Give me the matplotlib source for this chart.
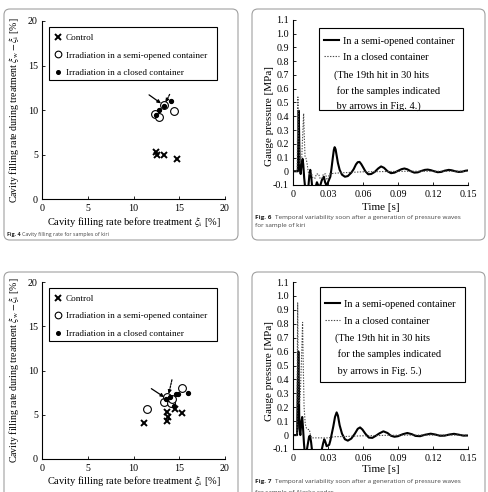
import matplotlib
matplotlib.use('Agg')
import matplotlib.pyplot as plt
from matplotlib.patches import FancyBboxPatch, Rectangle
from matplotlib.lines import Line2D

plt.rcParams['font.family'] = 'Liberation Serif'
plt.rcParams['mathtext.fontset'] = 'stix'

W, H = 488, 492

# ---- Fig. 4 : kiri, cavity filling rate ----
kiri_ctrl_x = [12.5, 12.6, 13.3, 14.7]
kiri_ctrl_y = [5.3, 4.95, 5.0, 4.55]
kiri_open_x = [12.4, 12.8, 13.35, 14.4]
kiri_open_y = [9.55, 9.25, 10.6, 9.85]
kiri_closed_x = [12.45, 12.75, 13.3, 14.1]
kiri_closed_y = [9.45, 10.05, 10.45, 11.0]
kiri_arrow_solid = [(11.7, 11.7), (13.0, 10.75)]
kiri_arrow_dotted = [(13.95, 11.75), (13.5, 10.85)]

# ---- Fig. 5 : Alaska cedar, cavity filling rate ----
cedar_ctrl_x = [11.15, 13.7, 13.8, 13.7, 14.5, 15.25]
cedar_ctrl_y = [4.05, 5.3, 4.8, 4.35, 5.65, 5.2]
cedar_open_x = [11.45, 13.35, 13.7, 14.05, 14.25, 15.25]
cedar_open_y = [5.7, 6.4, 6.95, 6.3, 6.8, 8.05]
cedar_closed_x = [13.5, 14.0, 14.45, 14.6, 14.9, 16.0]
cedar_closed_y = [6.8, 7.0, 5.95, 7.35, 7.35, 7.45]
cedar_arrow_solid = [(11.95, 7.95), (13.35, 7.0)]
cedar_arrow_dotted = [(14.2, 8.95), (13.85, 7.35)]

# ---- Fig. 6 : kiri, gauge pressure vs time ----
kiri_semi_t = [0, 0.0042, 0.0046, 0.0049, 0.0053, 0.0058, 0.0066, 0.0075, 0.0082, 0.0088,
               0.0096, 0.0103, 0.0132, 0.0140, 0.0148, 0.0156, 0.0164, 0.0195, 0.0205, 0.0215,
               0.0232, 0.0245, 0.0255, 0.0265, 0.0275, 0.0285, 0.0295, 0.0305, 0.032, 0.033,
               0.034, 0.035, 0.0357, 0.0365, 0.0375, 0.0385, 0.040, 0.042, 0.0445, 0.047,
               0.050, 0.052, 0.054, 0.0555, 0.057, 0.0585, 0.060, 0.062, 0.0645, 0.067,
               0.070, 0.073, 0.0755, 0.078, 0.081, 0.084, 0.087, 0.090, 0.093, 0.0955,
               0.098, 0.101, 0.104, 0.107, 0.110, 0.113, 0.1155, 0.118, 0.121, 0.124,
               0.127, 0.130, 0.1335, 0.136, 0.139, 0.142, 0.145, 0.148, 0.150]
kiri_semi_p = [0, 0, 0.30, 0.44, 0.25, 0.02, -0.02, 0.06, 0.09, 0.05,
               -0.05, -0.11, -0.11, -0.03, 0.01, -0.04, -0.11, -0.11, -0.08, -0.10,
               -0.11, -0.07, -0.05, -0.04, -0.08, -0.10, -0.09, -0.07, -0.04, 0.02,
               0.09, 0.155, 0.175, 0.16, 0.11, 0.06, 0.01, -0.025, -0.04, -0.035,
               -0.01, 0.015, 0.05, 0.066, 0.068, 0.052, 0.03, 0.0, -0.022, -0.02,
               -0.005, 0.02, 0.035, 0.025, 0.0, -0.014, -0.01, 0.003, 0.015, 0.02,
               0.014, 0.0, -0.01, -0.008, 0.002, 0.01, 0.012, 0.008, 0.0, -0.007,
               -0.005, 0.004, 0.01, 0.007, 0.0, -0.005, -0.003, 0.004, 0.006]
kiri_closed_t = [0, 0.0036, 0.0039, 0.0042, 0.0045, 0.006, 0.0075, 0.0085, 0.0091, 0.0097,
                 0.0103, 0.011, 0.012, 0.013, 0.0135, 0.016, 0.017, 0.019, 0.020, 0.022,
                 0.023, 0.025, 0.026, 0.028, 0.029, 0.030, 0.031, 0.035, 0.040, 0.050,
                 0.060, 0.080, 0.100, 0.150]
kiri_closed_p = [0, 0, 0.30, 0.54, 0.30, 0.05, 0.10, 0.30, 0.42, 0.25,
                 0.11, 0.10, 0.06, 0.0, -0.02, -0.02, -0.05, -0.05, -0.02, -0.02,
                 -0.05, -0.05, -0.02, -0.02, -0.06, -0.06, -0.02, -0.015, -0.012, -0.008,
                 -0.004, -0.002, 0.0, 0.0]

# ---- Fig. 7 : Alaska cedar, gauge pressure vs time ----
cedar_semi_t = [0, 0.0035, 0.0042, 0.0046, 0.0050, 0.0055, 0.0063, 0.0072, 0.0079, 0.0086,
                0.0094, 0.0099, 0.0118, 0.0128, 0.0138, 0.0146, 0.0155, 0.0163, 0.0245, 0.0258,
                0.0268, 0.0278, 0.0288, 0.030, 0.031, 0.032, 0.033, 0.0345, 0.036, 0.0374,
                0.0385, 0.040, 0.042, 0.0445, 0.047, 0.050, 0.053, 0.0555, 0.0575, 0.0595,
                0.062, 0.065, 0.068, 0.071, 0.074, 0.0775, 0.081, 0.084, 0.087, 0.090,
                0.094, 0.098, 0.102, 0.105, 0.109, 0.113, 0.118, 0.122, 0.126, 0.130,
                0.134, 0.138, 0.142, 0.146, 0.150]
cedar_semi_p = [0, 0, 0.40, 0.60, 0.35, 0.05, 0.0, 0.10, 0.13, 0.05,
                -0.06, -0.11, -0.11, -0.06, -0.01, -0.005, -0.05, -0.11, -0.11, -0.06,
                -0.03, -0.05, -0.08, -0.075, -0.07, -0.04, 0.0, 0.06, 0.13, 0.163,
                0.14, 0.07, 0.01, -0.03, -0.04, -0.025, 0.01, 0.045, 0.055, 0.04,
                0.01, -0.018, -0.02, -0.005, 0.012, 0.027, 0.015, -0.005, -0.012, -0.008,
                0.006, 0.015, 0.006, -0.006, -0.008, 0.002, 0.01, 0.004, -0.005, -0.004,
                0.004, 0.009, 0.003, -0.004, -0.003]
cedar_closed_t = [0, 0.0034, 0.0037, 0.0040, 0.0044, 0.0049, 0.0055, 0.0063, 0.0075, 0.0082,
                  0.0088, 0.0095, 0.0105, 0.0115, 0.013, 0.014, 0.015, 0.016, 0.030, 0.035,
                  0.045, 0.060, 0.080, 0.100, 0.150]
cedar_closed_p = [0, 0, 0.50, 0.95, 0.50, 0.25, 0.22, 0.30, 0.60, 0.81,
                  0.50, 0.20, 0.08, 0.05, 0.04, 0.04, 0.0, -0.02, -0.02, -0.012,
                  -0.01, -0.005, -0.002, 0.0, 0.0]

legend_scatter = ['Control', 'Irradiation in a semi-opened container',
                  'Irradiation in a closed container']
legend_lines = ['In a semi-opened container', 'In a closed container']
note_kiri = ['(The 19th hit in 30 hits', ' for the samples indicated', ' by arrows in Fig. 4.)']
note_cedar = ['(The 19th hit in 30 hits', ' for the samples indicated', ' by arrows in Fig. 5.)']
time_ticks = [0, 0.03, 0.06, 0.09, 0.12, 0.15]
time_labels = ['0', '0.03', '0.06', '0.09', '0.12', '0.15']
p_ticks = [-0.1, 0, 0.1, 0.2, 0.3, 0.4, 0.5, 0.6, 0.7, 0.8, 0.9, 1.0, 1.1]
p_labels = ['-0.1', '0', '0.1', '0.2', '0.3', '0.4', '0.5', '0.6', '0.7', '0.8', '0.9', '1.0', '1.1']
rate_ticks = [0, 5, 10, 15, 20]

fig = plt.figure(figsize=(W / 100, H / 100), dpi=100)


def rect(l, t, r, b):
    return [l / W, 1 - b / H, (r - l) / W, (b - t) / H]


def box(l, t, r, b):
    p = FancyBboxPatch((l / W, 1 - b / H), (r - l) / W, (b - t) / H,
                       boxstyle='round,pad=0,rounding_size=0.012', transform=fig.transFigure,
                       fill=False, edgecolor='#a0a0a0', lw=0.8)
    fig.patches.append(p)


def caption(x, y, num, text, x2, size):
    fig.text(x / W, 1 - y / H, num, fontsize=size, fontweight='bold', family='Open Sans',
             va='center', color='#222222')
    fig.text(x2 / W, 1 - y / H, text, fontsize=size, family='Open Sans', va='center',
             color='#444444')


def style_axes(ax):
    ax.spines['top'].set_visible(False)
    ax.spines['right'].set_visible(False)
    ax.spines['left'].set_linewidth(0.8)
    ax.spines['bottom'].set_linewidth(0.8)
    ax.tick_params(direction='in', length=2.5, width=0.6, labelsize=7.2)
    ax.tick_params(axis='x', pad=3.5)
    ax.tick_params(axis='y', pad=3)


box(4, 9, 238, 240)
box(252, 9, 485, 240)
box(4, 272, 238, 520)
box(252, 272, 485, 520)

DOTS = (0, (1.2, 1.3))


def scatter_panel(ax, cx, cy, ox, oy, dx, dy, arrow_s, arrow_d, h_px):
    ax.plot(cx, cy, 'x', color='black', ms=4.5, mew=1.4, clip_on=False)
    ax.plot(ox, oy, 'o', mfc='white', mec='black', ms=5.6, mew=0.8)
    ax.plot(dx, dy, 'o', color='black', ms=2.8)
    ax.annotate('', xy=arrow_s[1], xytext=arrow_s[0],
                arrowprops=dict(arrowstyle='-|>', color='black', lw=0.9,
                                mutation_scale=5, shrinkA=0, shrinkB=0))
    ax.annotate('', xy=arrow_d[1], xytext=arrow_d[0],
                arrowprops=dict(arrowstyle='-|>', color='black', lw=0.9, ls=(0, (1.5, 1)),
                                mutation_scale=5, shrinkA=0, shrinkB=0))
    ax.set_xlim(0, 20)
    ax.set_ylim(0, 20)
    ax.set_xticks(rate_ticks)
    ax.set_yticks(rate_ticks)
    style_axes(ax)
    ax.set_xlabel(r'Cavity filling rate before treatment $\xi_\mathrm{i}$ [%]', fontsize=7.5)
    ax.set_ylabel(r'Cavity filling rate during treatment $\xi_\mathrm{w}-\xi_\mathrm{i}$ [%]',
                  fontsize=7.1)
    ax.xaxis.set_label_coords(0.5, -15.5 / h_px)
    ax.yaxis.set_label_coords(-21 / 183, 0.5)
    ax.add_patch(Rectangle((0.04, 0.669), 0.918, 0.296, transform=ax.transAxes,
                           fill=False, edgecolor='black', lw=0.8))
    handles = [Line2D([], [], ls='none', marker='x', color='black', ms=4, mew=1.4),
               Line2D([], [], ls='none', marker='o', mfc='white', mec='black', ms=4.8, mew=0.8),
               Line2D([], [], ls='none', marker='o', color='black', ms=2.6)]
    ax.legend(handles, legend_scatter, loc='upper left', bbox_to_anchor=(0.045, 0.945),
              frameon=False, fontsize=6.6, handlelength=1.0, handletextpad=0.4,
              labelspacing=1.0, borderpad=0.3, borderaxespad=0)


def pressure_panel(ax, st, sp, ct, cp, note, frame, h_px, lab_y, leg_top, spacing, rows):
    ax.plot(st, sp, color='black', lw=1.5)
    ax.plot(ct, cp, color='#4a4a4a', lw=0.8, ls=DOTS)
    ax.set_xlim(0, 0.15)
    ax.set_ylim(-0.1, 1.1)
    ax.set_xticks(time_ticks)
    ax.set_xticklabels(time_labels)
    ax.set_yticks(p_ticks)
    ax.set_yticklabels(p_labels)
    style_axes(ax)
    ax.set_xlabel('Time [s]', fontsize=8)
    ax.set_ylabel('Gauge pressure [MPa]', fontsize=8)
    ax.xaxis.set_label_coords(0.5, -lab_y / h_px)
    ax.yaxis.set_label_coords(-19 / 175, frame[4])
    x0, y0, x1, y1 = frame[:4]
    ax.add_patch(Rectangle((x0, y0), x1 - x0, y1 - y0, transform=ax.transAxes,
                           fill=False, edgecolor='black', lw=0.8))
    handles = [Line2D([], [], color='black', lw=1.5),
               Line2D([], [], color='#4a4a4a', lw=0.8, ls=DOTS)]
    ax.legend(handles, legend_lines, loc='upper left', bbox_to_anchor=(x0 + 0.01, leg_top),
              frameon=False, fontsize=7.4, handlelength=1.5, handletextpad=0.4,
              labelspacing=spacing, borderpad=0.3, borderaxespad=0)
    for i, line in enumerate(note):
        ax.text(x0 + 0.085, rows[i], line, transform=ax.transAxes, fontsize=7.4,
                va='center', ha='left')


ax4 = fig.add_axes(rect(42, 21, 225, 199))
scatter_panel(ax4, kiri_ctrl_x, kiri_ctrl_y, kiri_open_x, kiri_open_y, kiri_closed_x,
              kiri_closed_y, kiri_arrow_solid, kiri_arrow_dotted, 178)

ax5 = fig.add_axes(rect(42, 282, 225, 459))
scatter_panel(ax5, cedar_ctrl_x, cedar_ctrl_y, cedar_open_x, cedar_open_y, cedar_closed_x,
              cedar_closed_y, cedar_arrow_solid, cedar_arrow_dotted, 177)

ax6 = fig.add_axes(rect(293, 20, 468, 185))
pressure_panel(ax6, kiri_semi_t, kiri_semi_p, kiri_closed_t, kiri_closed_p, note_kiri,
               (0.149, 0.455, 0.971, 0.95, 0.42), 165, 18.5, 0.917, 0.65,
               [0.665, 0.57, 0.475])

ax7 = fig.add_axes(rect(293, 282, 468, 449))
pressure_panel(ax7, cedar_semi_t, cedar_semi_p, cedar_closed_t, cedar_closed_p, note_cedar,
               (0.155, 0.40, 0.98, 0.97, 0.47), 167, 16.5, 0.914, 0.75,
               [0.666, 0.567, 0.467])

caption(7, 234.5, 'Fig. 4', 'Cavity filling rate for samples of kiri', 22.5, 3.8)
caption(255, 217, 'Fig. 6', 'Temporal variability soon after a generation of pressure waves',
        275, 4.6)
fig.text(255 / W, 1 - 226 / H, 'for sample of kiri', fontsize=4.6, family='Open Sans',
         va='center', color='#444444')
caption(7, 494, 'Fig. 5', 'Cavity filling rate for samples of Alaska cedar', 22.5, 3.8)
caption(255, 482, 'Fig. 7', 'Temporal variability soon after a generation of pressure waves',
        275, 4.6)
fig.text(255 / W, 1 - 492.5 / H, 'for sample of Alaska cedar', fontsize=4.6, family='Open Sans',
         va='center', color='#444444')

fig.savefig('out.png', dpi=100)
